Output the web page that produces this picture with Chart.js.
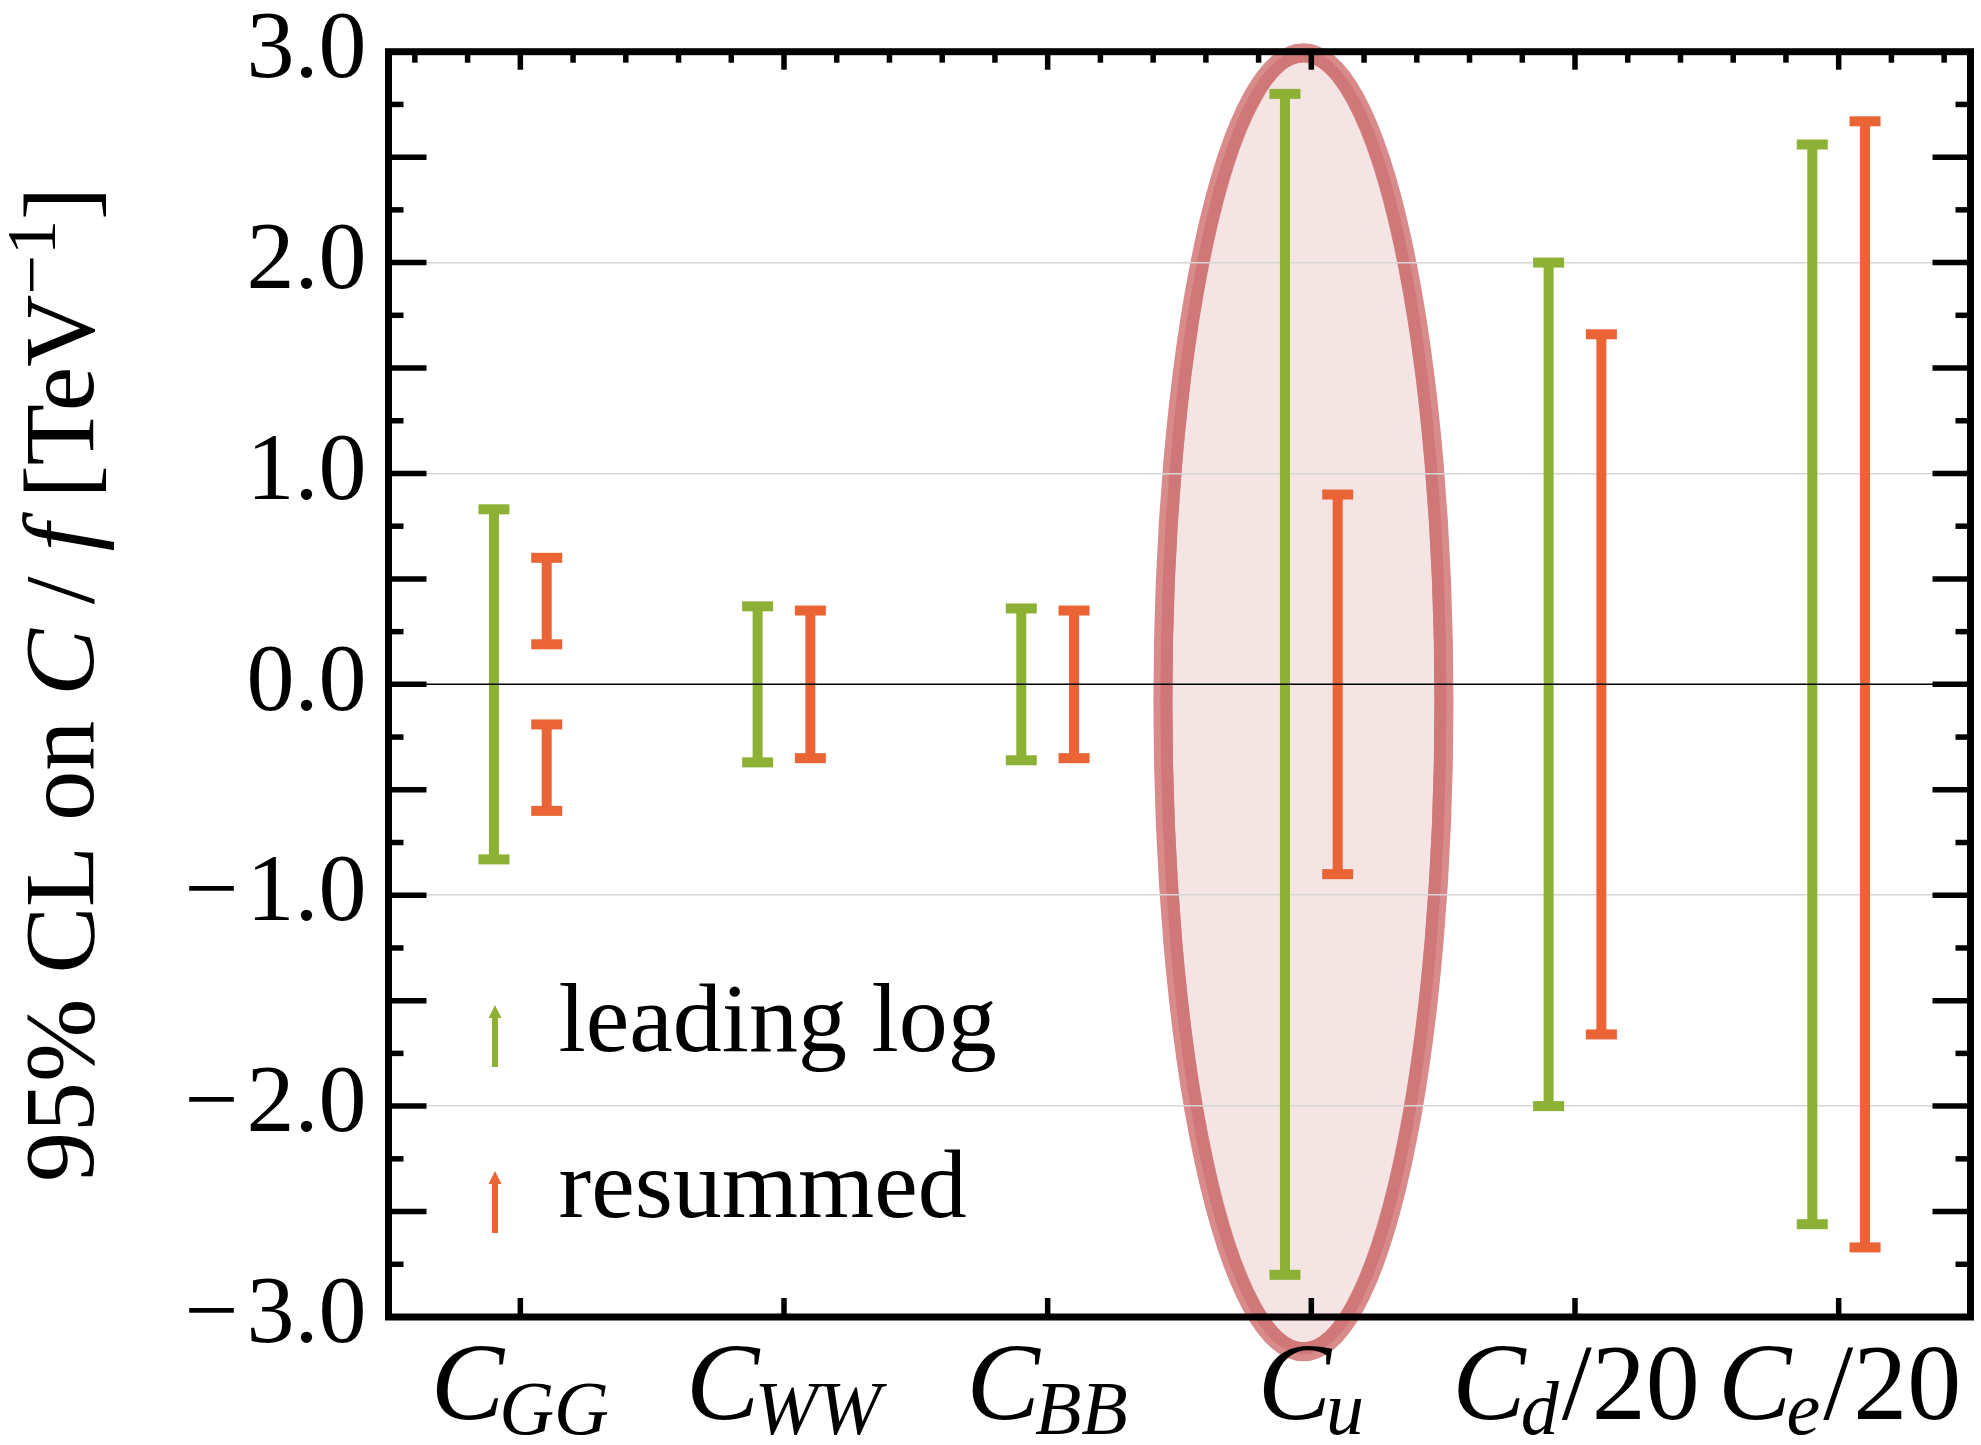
<!DOCTYPE html>
<html>
<head>
<meta charset="utf-8">
<script src="https://cdn.jsdelivr.net/npm/chart.js@4"></script>
<style>
  html, body { margin: 0; padding: 0; background: #fff; }
  #wrap { width: 1981px; height: 1445px; position: relative; }
</style>
</head>
<body>
<div id="wrap"><canvas id="chart"></canvas></div>
<script>
// categories (text after "_" is subscript, "/20" stays upright)
var categories = ['C_GG', 'C_WW', 'C_BB', 'C_u', 'C_d/20', 'C_e/20'];

// 95% CL intervals, leading log
var leadingLogLow  = [-0.83, -0.37, -0.36, -2.80, -2.00, -2.56];
var leadingLogHigh = [ 0.83,  0.37,  0.36,  2.80,  2.00,  2.56];

// resummed (C_GG splits in two pieces)
var resummedLow  = [0.19, -0.35, -0.35, -0.90, -1.66, -2.67];
var resummedHigh = [0.60,  0.35,  0.35,  0.90,  1.66,  2.67];
var resummedLow2  = [-0.60, null, null, null, null, null];
var resummedHigh2 = [-0.19, null, null, null, null, null];

var yTicks = [-3, -2, -1, 0, 1, 2, 3];

// the highlighted ellipse around C_u, in axis units
var highlight = { cat: 3, dx: -0.03, y: -0.085, rx: 0.533, ry: 3.08 };

var GREEN = '#8db134';
var ORANGE = '#ea6436';
var SERIF = "'Liberation Serif', 'DejaVu Serif', serif";

var pairs = (lo, hi) => lo.map((v, i) => v === null ? null : [v, hi[i]]);

var drawHighlight = (chart) => {
  var ctx = chart.ctx, xs = chart.scales.x, ys = chart.scales.y;
  var cx = xs.getPixelForValue(highlight.cat + highlight.dx);
  var cy = ys.getPixelForValue(highlight.y);
  var rx = Math.abs(xs.getPixelForValue(highlight.cat + highlight.rx) - xs.getPixelForValue(highlight.cat));
  var ry = Math.abs(ys.getPixelForValue(highlight.ry) - ys.getPixelForValue(0));
  ctx.save();
  ctx.beginPath();
  ctx.ellipse(cx, cy, rx, ry, 0, 0, Math.PI * 2);
  ctx.fillStyle = '#f5e4e4';
  ctx.fill();
  ctx.lineWidth = 19;
  ctx.strokeStyle = '#d98a8a';
  ctx.stroke();
  ctx.beginPath();
  ctx.ellipse(cx, cy, rx - 3.5, ry - 3.5, 0, 0, Math.PI * 2);
  ctx.lineWidth = 12;
  ctx.strokeStyle = '#d07878';
  ctx.stroke();
  ctx.restore();
};

var line = (ctx, x1, y1, x2, y2) => {
  ctx.beginPath();
  ctx.moveTo(x1, y1);
  ctx.lineTo(x2, y2);
  ctx.stroke();
};

var drawArrow = (ctx, x, yTop, yBottom, color) => {
  ctx.strokeStyle = color;
  ctx.fillStyle = color;
  ctx.lineWidth = 6;
  line(ctx, x, yBottom, x, yTop + 10);
  ctx.beginPath();
  ctx.moveTo(x, yTop);
  ctx.lineTo(x - 6.5, yTop + 13);
  ctx.lineTo(x + 6.5, yTop + 13);
  ctx.closePath();
  ctx.fill();
};

var framePlugin = {
  id: 'frame',
  beforeDraw: (chart) => drawHighlight(chart),
  afterDatasetsDraw: (chart) => {
    var ctx = chart.ctx, a = chart.chartArea, xs = chart.scales.x, ys = chart.scales.y;
    ctx.save();
    // error bar caps
    chart.data.datasets.forEach((ds, i) => {
      chart.getDatasetMeta(i).data.forEach((el, j) => {
        if (ds.data[j] === null) return;
        ctx.fillStyle = ds.backgroundColor;
        ctx.fillRect(el.x - 15.5, el.y - 5, 31, 10);
        ctx.fillRect(el.x - 15.5, el.base - 5, 31, 10);
      });
    });
    // zero line
    ctx.strokeStyle = '#000';
    ctx.lineWidth = 1.5;
    var y0 = ys.getPixelForValue(0);
    line(ctx, a.left, y0, a.right, y0);
    // ticks
    ctx.lineWidth = 5.5;
    for (var k = 1; k < 24; k++) {
      var v = -3 + k * 0.25;
      var py = ys.getPixelForValue(v);
      var len = (k % 2 === 0) ? 38 : 15;
      line(ctx, a.left, py, a.left + len, py);
      line(ctx, a.right - len, py, a.right, py);
    }
    for (var m = 0; m < 30; m++) {
      var px = xs.getPixelForValue(-0.4 + m * 0.2);
      var major = m % 5 === 2;
      line(ctx, px, a.top, px, a.top + (major ? 18 : 11));
      if (major) line(ctx, px, a.bottom, px, a.bottom - 19);
    }
    // frame
    ctx.lineWidth = 7;
    ctx.lineJoin = 'miter';
    ctx.strokeRect(a.left, a.top, a.right - a.left, a.bottom - a.top);
    ctx.restore();
  },
  afterDraw: (chart) => {
    var ctx = chart.ctx, a = chart.chartArea, xs = chart.scales.x;
    ctx.save();
    ctx.fillStyle = '#000';
    ctx.textBaseline = 'alphabetic';
    ctx.textAlign = 'left';

    // category labels with subscripts
    var fMain = 'italic 110px ' + SERIF, fSub = 'italic 76px ' + SERIF, fUp = '108px ' + SERIF;
    var base = a.bottom + 102;
    categories.forEach((cat, i) => {
      var parts = cat.split('_');
      var rest = parts[1];
      var s = rest.indexOf('/');
      var sub = s < 0 ? rest : rest.slice(0, s);
      var suffix = s < 0 ? '' : rest.slice(s);
      ctx.font = fMain; var w1 = ctx.measureText(parts[0]).width;
      ctx.font = fSub; var w2 = ctx.measureText(sub).width;
      ctx.font = fUp; var w3 = ctx.measureText(suffix).width;
      var x = xs.getPixelForValue(i) - (w1 + w2 + w3 - 4) / 2;
      ctx.font = fMain; ctx.fillText(parts[0], x, base);
      ctx.font = fSub; ctx.fillText(sub, x + w1 - 5, base + 15);
      ctx.font = fUp; ctx.fillText(suffix, x + w1 - 5 + w2 + 3, base);
    });

    // y axis title
    var title = [
      ['95% CL on ', '100px ' + SERIF, 0],
      ['C', 'italic 100px ' + SERIF, 0],
      [' / ', '100px ' + SERIF, 0],
      ['f', 'italic 100px ' + SERIF, 0],
      [' [TeV', '100px ' + SERIF, 0],
      ['\u22121', '70px ' + SERIF, -38],
      [']', '100px ' + SERIF, 0]
    ];
    var total = 0;
    title.forEach((p) => { ctx.font = p[1]; p.push(ctx.measureText(p[0]).width); total += p[3]; });
    ctx.translate(93, (a.top + a.bottom) / 2);
    ctx.rotate(-Math.PI / 2);
    var tx = -total / 2;
    title.forEach((p) => { ctx.font = p[1]; ctx.fillText(p[0], tx, p[2]); tx += p[3]; });
    ctx.setTransform(1, 0, 0, 1, 0, 0);

    // legend
    var legend = [[chart.data.datasets[0].label, GREEN, 1005], [chart.data.datasets[1].label, ORANGE, 1171]];
    legend.forEach((l) => {
      drawArrow(ctx, a.left + 106.5, l[2], l[2] + 62, l[1]);
      ctx.fillStyle = '#000';
      ctx.font = '98px ' + SERIF;
      ctx.fillText(l[0], a.left + 170, l[2] + 46);
    });
    ctx.restore();
  }
};

var ctx = document.getElementById('chart').getContext('2d');
var chart = new Chart(ctx, {
  type: 'bar',
  data: {
    labels: categories,
    datasets: [
      { label: 'leading log', data: pairs(leadingLogLow, leadingLogHigh), backgroundColor: GREEN, stack: 'll' },
      { label: 'resummed', data: pairs(resummedLow, resummedHigh), backgroundColor: ORANGE, stack: 'rs' },
      { label: 'resummed', data: pairs(resummedLow2, resummedHigh2), backgroundColor: ORANGE, stack: 'rs' }
    ]
  },
  options: {
    responsive: true,
    maintainAspectRatio: false,
    animation: false,
    events: [],
    categoryPercentage: 0.4,
    barPercentage: 1,
    maxBarThickness: 10,
    borderWidth: 0,
    layout: { padding: { left: 0, right: 10.5, top: 51.7, bottom: 0 } },
    plugins: { legend: { display: false }, tooltip: { enabled: false } },
    scales: {
      x: {
        offset: true,
        grid: { display: false },
        border: { display: false },
        ticks: { display: false },
        afterFit: (s) => { s.height = 128; }
      },
      y: {
        min: -3,
        max: 3,
        stacked: false,
        afterBuildTicks: (s) => { s.ticks = yTicks.map((v) => ({ value: v })); },
        ticks: {
          padding: 22,
          color: '#000',
          font: { family: SERIF, size: 96, lineHeight: 1 },
          callback: (v) => (v < 0 ? '\u2212\u200a' : '') + Math.abs(v).toFixed(1)
        },
        grid: {
          drawTicks: false,
          lineWidth: 1.5,
          color: (c) => (c.tick && Math.abs(c.tick.value) > 0 && Math.abs(c.tick.value) < 3) ? '#d6d6d6' : 'rgba(0,0,0,0)'
        },
        border: { display: false },
        afterFit: (s) => { s.width = 388.5; s.paddingTop = 0; s.paddingBottom = 0; }
      }
    }
  },
  plugins: [framePlugin]
});
</script>
</body>
</html>
